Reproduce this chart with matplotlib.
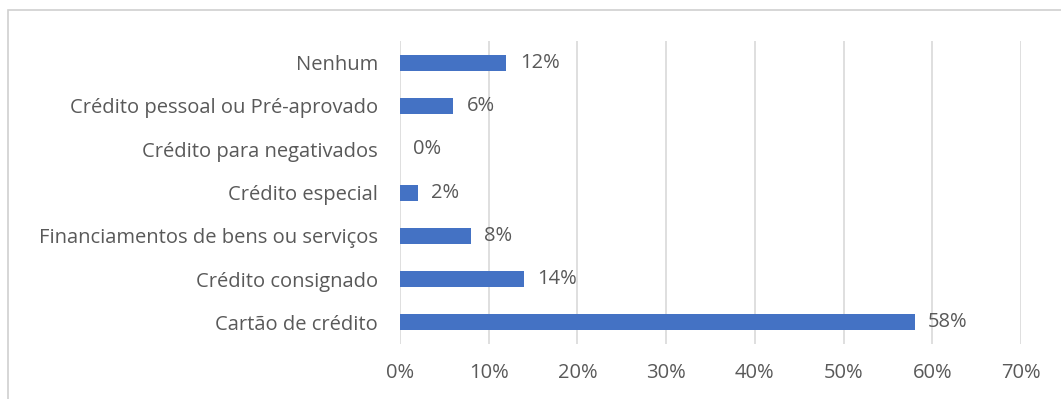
import matplotlib.pyplot as plt
import matplotlib.ticker as ticker
from matplotlib.patches import Rectangle

# categories from bottom to top
categories = ['Cartão de crédito', 'Crédito consignado',
              'Financiamentos de bens ou serviços', 'Crédito especial',
              'Crédito para negativados', 'Crédito pessoal ou Pré-aprovado',
              'Nenhum']
values = [58, 14, 8, 2, 0, 6, 12]
xticks = [0, 10, 20, 30, 40, 50, 60, 70]

bar_c = '#4472C4'
text_c = '#595959'
grid_c = '#D9D9D9'
fs = 14.5

plt.rcParams['font.family'] = ['Open Sans', 'DejaVu Sans']

fig = plt.figure(figsize=(10.61, 3.99), dpi=100)
fig.patches.append(Rectangle((8 / 1061, -0.02), 1.1, 1 - 10 / 399 + 0.02,
                             transform=fig.transFigure, fill=False,
                             edgecolor='#D0D0D0', lw=1.2))

ax = fig.add_axes([0.377, 0.138, 0.5853, 0.759])
y = range(len(categories))
ax.barh(y, values, height=0.37, color=bar_c, zorder=3)

for i, v in enumerate(values):
    ax.text(v + 1.5, i, '%d%%' % v, va='center', ha='left',
            fontsize=fs, color=text_c)

ax.set_xlim(0, 70)
ax.set_ylim(-0.5, len(categories) - 0.5)
ax.set_xticks(xticks)
ax.xaxis.set_major_formatter(ticker.FuncFormatter(lambda x, p: '%d%%' % x))
ax.set_yticks(list(y))
ax.set_yticklabels(categories)
ax.tick_params(axis='both', length=0, labelsize=fs, colors=text_c)
ax.tick_params(axis='x', pad=14)
ax.tick_params(axis='y', pad=16)
ax.grid(axis='x', color=grid_c, lw=1.2, zorder=0)
for s in ax.spines.values():
    s.set_visible(False)

plt.savefig('out.png', dpi=100)
